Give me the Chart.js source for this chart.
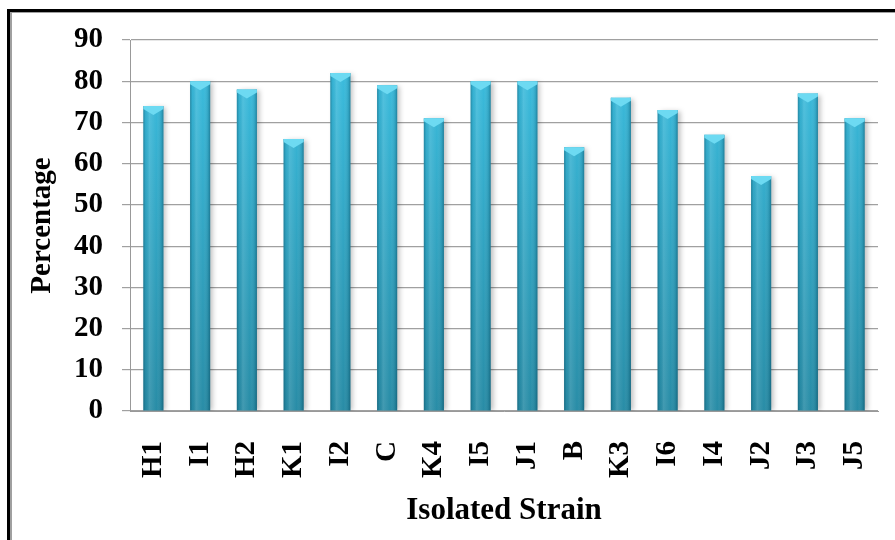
<!DOCTYPE html>
<html>
<head>
<meta charset="utf-8">
<script src="https://cdn.jsdelivr.net/npm/chart.js@4"></script>
<style>
  body { margin: 0; background: #fff; overflow: hidden; }
  #wrap { position: relative; width: 895px; height: 540px; }
  #frame {
    position: absolute; left: 7px; top: 9px; width: 1000px; height: 1000px;
    border-left: 3px solid #000; border-top: 3px solid #000;
    pointer-events: none;
  }
  #frame div { position: absolute; left: 0; top: 0; right: 0; bottom: 0;
    border-left: 2px solid #a0a0a0; border-top: 1px solid #a0a0a0; }
</style>
</head>
<body>
<div id="wrap">
  <canvas id="chart" width="895" height="540"></canvas>
  <div id="frame"><div></div></div>
</div>
<script>
// data
const strains = ['H1', 'I1', 'H2', 'K1', 'I2', 'C', 'K4', 'I5', 'J1', 'B', 'K3', 'I6', 'I4', 'J2', 'J3', 'J5'];
const percentage = [74, 80, 78, 66, 82, 79, 71, 80, 80, 64, 76, 73, 67, 57, 77, 71];
const yTicks = [0, 10, 20, 30, 40, 50, 60, 70, 80, 90];

const serif = 'Liberation Serif, Times New Roman, serif';

// cylinder look: shadow + side shading + light cap on top of each bar
const cylinder = {
  id: 'cylinder',
  beforeDatasetsDraw(chart) {
    const ctx = chart.ctx;
    ctx.save();
    ctx.shadowColor = 'rgba(0,0,0,0.25)';
    ctx.shadowBlur = 5;
    ctx.shadowOffsetX = 3;
    ctx.shadowOffsetY = 1;
  },
  afterDatasetsDraw(chart) {
    const ctx = chart.ctx;
    ctx.restore();
    ctx.save();
    chart.getDatasetMeta(0).data.forEach(bar => {
      const l = bar.x - bar.width / 2, r = bar.x + bar.width / 2;
      const t = bar.y, b = bar.base;
      const g = ctx.createLinearGradient(l, 0, r, 0);
      g.addColorStop(0, 'rgba(0,50,70,0.35)');
      g.addColorStop(0.12, 'rgba(0,50,70,0.05)');
      g.addColorStop(0.3, 'rgba(255,255,255,0.12)');
      g.addColorStop(0.65, 'rgba(255,255,255,0)');
      g.addColorStop(0.9, 'rgba(0,50,70,0.15)');
      g.addColorStop(1, 'rgba(0,50,70,0.4)');
      ctx.fillStyle = g;
      ctx.fillRect(l, t, r - l, b - t);
      // top cap
      ctx.beginPath();
      ctx.moveTo(l, t);
      ctx.lineTo(r, t);
      ctx.lineTo(r, t + 3);
      ctx.lineTo(bar.x, t + 9);
      ctx.lineTo(l, t + 3);
      ctx.closePath();
      ctx.fillStyle = '#6ddaf2';
      ctx.fill();
    });
    ctx.restore();
  }
};

new Chart(document.getElementById('chart'), {
  type: 'bar',
  data: {
    labels: strains,
    datasets: [{
      label: 'Percentage',
      data: percentage,
      backgroundColor: (c) => {
        const area = c.chart.chartArea;
        if (!area) return '#33a8c6';
        const g = c.chart.ctx.createLinearGradient(0, area.top, 0, area.bottom);
        g.addColorStop(0, '#3cc0e2');
        g.addColorStop(1, '#288ca6');
        return g;
      },
      borderWidth: 0,
      categoryPercentage: 1,
      barPercentage: 0.43
    }]
  },
  options: {
    responsive: false,
    animation: false,
    layout: { padding: { left: 0, top: 40, right: 17, bottom: 0 } },
    plugins: {
      legend: { display: false },
      tooltip: { enabled: false }
    },
    scales: {
      x: {
        grid: { display: false },
        border: { display: true, color: '#999' },
        ticks: {
          color: '#000',
          font: { family: serif, size: 29, weight: 'bold' },
          minRotation: 90,
          maxRotation: 90,
          padding: 22
        },
        title: {
          display: true,
          text: 'Isolated Strain',
          color: '#000',
          font: { family: serif, size: 31, weight: 'bold' },
          padding: { top: 0, bottom: 10 }
        },
        afterFit: (s) => { s.height = 129; s.paddingLeft = 0; s.paddingRight = 0; }
      },
      y: {
        min: 0,
        max: 90,
        afterBuildTicks: (s) => { s.ticks = yTicks.map(v => ({ value: v })); },
        grid: { color: '#a0a0a0', tickLength: 8, lineWidth: 1.2 },
        border: { color: '#999' },
        ticks: {
          color: '#000',
          font: { family: serif, size: 29, weight: 'bold' },
          padding: 19
        },
        title: {
          display: true,
          text: 'Percentage',
          color: '#000',
          font: { family: serif, size: 29, weight: 'bold' },
          padding: { top: 25, bottom: 0 }
        },
        afterFit: (s) => { s.width = 130; s.paddingTop = 0; s.paddingBottom = 0; }
      }
    }
  },
  plugins: [cylinder]
});
</script>
</body>
</html>
